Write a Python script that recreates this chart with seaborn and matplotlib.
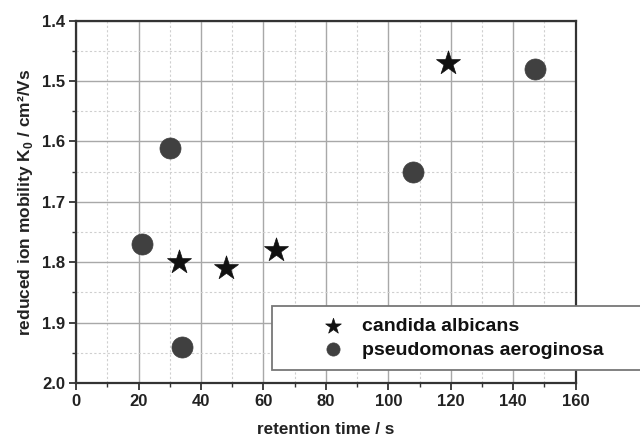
import matplotlib
matplotlib.use("Agg")
import matplotlib.pyplot as plt
import seaborn as sns
import pandas as pd
from matplotlib.ticker import MultipleLocator
from matplotlib.patches import Rectangle

# data
candida_t = [33, 48, 64, 119]
candida_k = [1.80, 1.81, 1.78, 1.47]
pseudo_t = [21, 30, 34, 108, 147]
pseudo_k = [1.77, 1.61, 1.94, 1.65, 1.48]
labels = ["candida albicans", "pseudomonas aeroginosa"]
x_ticks = [0, 20, 40, 60, 80, 100, 120, 140, 160]
y_ticks = [1.4, 1.5, 1.6, 1.7, 1.8, 1.9, 2.0]

df = pd.DataFrame({
    "t": candida_t + pseudo_t,
    "k": candida_k + pseudo_k,
    "species": [labels[0]] * len(candida_t) + [labels[1]] * len(pseudo_t),
})

sns.set_style("white")
plt.rcParams["font.family"] = ["Liberation Sans", "DejaVu Sans"]
plt.rcParams["font.weight"] = "bold"
plt.rcParams["mathtext.fontset"] = "custom"
plt.rcParams["mathtext.bf"] = "Liberation Sans:bold"
plt.rcParams["mathtext.rm"] = "Liberation Sans:bold"

fig = plt.figure(figsize=(6.4, 4.37), dpi=100)
ax = fig.add_axes([0.119, 0.1236, 0.7805, 0.829])

sub_c = df[df.species == labels[0]]
sub_p = df[df.species == labels[1]]
sns.scatterplot(data=sub_c, x="t", y="k", marker="*", s=330, color="#111111",
                edgecolor="#111111", linewidth=0.5, ax=ax, zorder=3, label=labels[0])
sns.scatterplot(data=sub_p, x="t", y="k", marker="o", s=230, color="#404040",
                edgecolor="#404040", linewidth=0.5, ax=ax, zorder=3, label=labels[1])

ax.set_xlim(0, 160)
ax.set_ylim(2.0, 1.4)
ax.set_xticks(x_ticks)
ax.set_yticks(y_ticks)
ax.set_xticklabels([str(v) for v in x_ticks])
ax.set_yticklabels([f"{v:.1f}" for v in y_ticks])
ax.xaxis.set_minor_locator(MultipleLocator(10))
ax.yaxis.set_minor_locator(MultipleLocator(0.05))

ax.grid(which="major", color="#a8a8a8", linewidth=1.0, linestyle="-")
ax.grid(which="minor", color="#cfcfcf", linewidth=0.8, linestyle=(0, (2, 2)))
ax.set_axisbelow(True)

for s in ax.spines.values():
    s.set_color("#333333")
    s.set_linewidth(1.6)

ax.tick_params(axis="both", which="major", direction="out", length=5, width=1.3,
               color="#333333", labelsize=12, bottom=True, left=True, pad=3)
ax.tick_params(axis="both", which="minor", direction="out", length=3, width=1.0,
               color="#333333", bottom=True, left=True)
ax.tick_params(top=False, right=False, which="both")
for lab in ax.get_xticklabels() + ax.get_yticklabels():
    lab.set_fontweight("bold")
    lab.set_color("#222222")

ax.set_xlabel("retention time / s", fontsize=12.3, fontweight="bold", color="#222222", labelpad=9)
ax.set_ylabel(r"reduced ion mobility K$_\mathbf{0}$ / cm²/Vs", fontsize=12.5,
              fontweight="bold", color="#222222", labelpad=5)

# legend frame (extends beyond the axes to the right)
rect = Rectangle((0.392, 0.036), 1.2, 0.177, transform=ax.transAxes,
                 facecolor="white", edgecolor="#777777", linewidth=1.3,
                 clip_on=False, zorder=5)
ax.add_patch(rect)

handles, _ = ax.get_legend_handles_labels()
leg = ax.legend(handles=handles, labels=labels, loc="center left",
                bbox_to_anchor=(0.4755, 0.1245), frameon=False,
                handlelength=2.0, handletextpad=0.47, borderpad=0, borderaxespad=0,
                labelspacing=0.31, prop={"weight": "bold", "size": 14})
leg.set_zorder(6)
leg.legend_handles[0].set_sizes([140])
leg.legend_handles[1].set_sizes([90])
for t in leg.get_texts():
    t.set_color("#111111")

fig.savefig("out.png", dpi=100)
